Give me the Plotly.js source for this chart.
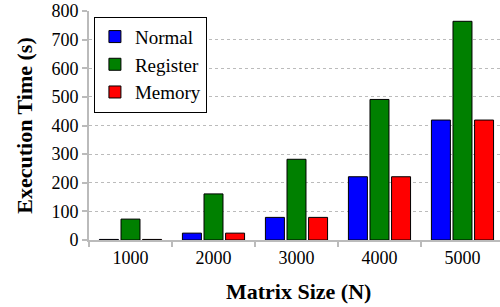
<!DOCTYPE html>
<html>
<head>
<meta charset="utf-8">
<script src="https://cdn.plot.ly/plotly-3.0.1.min.js"></script>
<style>html,body{margin:0;padding:0;background:#fff;}#chart{width:500px;height:307px;}</style>
</head>
<body>
<div id="chart"></div>
<script>
var categories = ["1000", "2000", "3000", "4000", "5000"];
var normalTimes = [2, 24, 79, 221, 419];
var registerTimes = [73, 161, 282, 491, 764];
var memoryTimes = [2, 24, 79, 221, 419];
var yTicks = [0, 100, 200, 300, 400, 500, 600, 700, 800];

var font = "Liberation Serif";
function mk(name, vals, color) {
  return {type: "bar", name: name, x: categories, y: vals,
    marker: {color: color, line: {color: "#000", width: 1}}};
}
var data = [
  mk("Normal", normalTimes, "#0000ff"),
  mk("Register", registerTimes, "#008000"),
  mk("Memory", memoryTimes, "#ff0000")
];
var layout = {
  width: 500, height: 307,
  margin: {l: 89, r: 0, t: 11, b: 67},
  paper_bgcolor: "#fff", plot_bgcolor: "#fff",
  barmode: "group", bargap: 0.22, bargroupgap: 0.12,
  font: {family: font, size: 18, color: "#000"},
  showlegend: true,
  legend: {x: 0.012, y: 0.975, xanchor: "left", yanchor: "top",
    bordercolor: "#000", borderwidth: 1, bgcolor: "#fff",
    font: {family: font, size: 19, color: "#000"}, tracegroupgap: 0, itemwidth: 30},
  xaxis: {type: "category", range: [-0.5, 4.452], tickson: "boundaries",
    ticks: "outside", ticklen: 5, tickcolor: "#bbb", tickwidth: 2,
    showline: true, linecolor: "#bbb", linewidth: 2,
    showgrid: false, zeroline: false,
    tickfont: {family: font, size: 18, color: "#000"}},
  yaxis: {range: [0, 800], tickvals: yTicks, ticks: "outside", ticklen: 5,
    tickcolor: "#bbb", tickwidth: 2,
    showline: true, linecolor: "#bbb", linewidth: 2,
    showgrid: true, gridcolor: "#bbb", griddash: "3px,3px", gridwidth: 1,
    zeroline: false,
    tickfont: {family: font, size: 18, color: "#000"},
    title: {text: "<b>Execution Time (s)</b>", font: {family: font, size: 22, color: "#000"}, standoff: 13}},
  annotations: [{text: "<b>Matrix Size (N)</b>", xref: "paper", yref: "paper",
    x: 0.51, y: -0.227, xanchor: "center", yanchor: "middle", showarrow: false,
    font: {family: font, size: 22, color: "#000"}}]
};
Plotly.newPlot("chart", data, layout, {staticPlot: true, displayModeBar: false});
</script>
</body>
</html>
